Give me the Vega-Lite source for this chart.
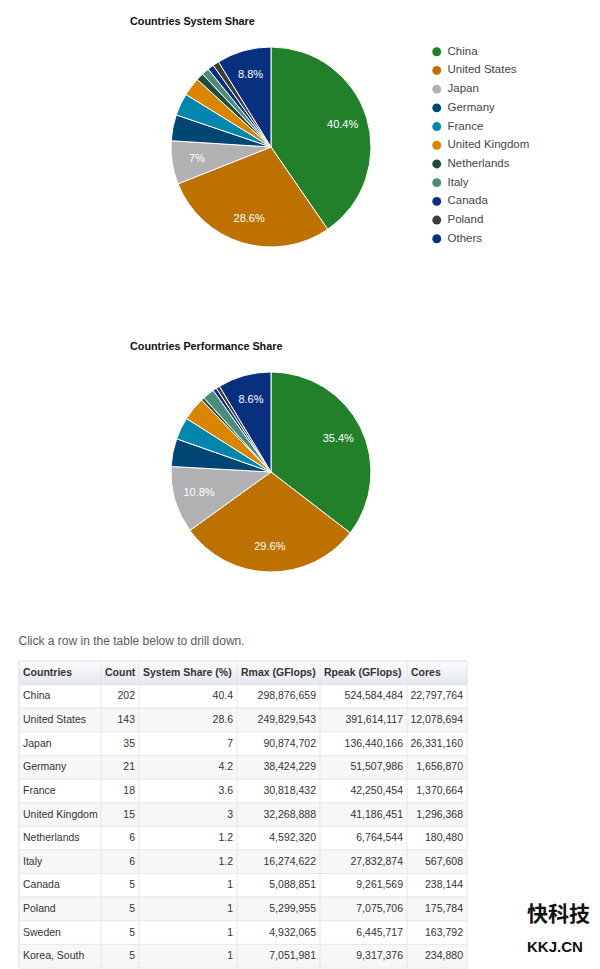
{
  "$schema": "https://vega.github.io/schema/vega-lite/v6.json",
  "background": "white",
  "padding": {"left": 18, "top": 16, "right": 2, "bottom": 0},
  "config": {"view": {"stroke": null}, "font": "Liberation Sans"},
  "datasets": {
    "pies": [
      {"rank": 1, "country": "China", "system": 0.404, "perf": 0.354},
      {"rank": 2, "country": "United States", "system": 0.286, "perf": 0.296},
      {"rank": 3, "country": "Japan", "system": 0.07, "perf": 0.108},
      {"rank": 4, "country": "Germany", "system": 0.042, "perf": 0.045},
      {"rank": 5, "country": "France", "system": 0.036, "perf": 0.036},
      {"rank": 6, "country": "United Kingdom", "system": 0.03, "perf": 0.038},
      {"rank": 7, "country": "Netherlands", "system": 0.012, "perf": 0.005},
      {"rank": 8, "country": "Italy", "system": 0.012, "perf": 0.019},
      {"rank": 9, "country": "Canada", "system": 0.01, "perf": 0.006},
      {"rank": 10, "country": "Poland", "system": 0.01, "perf": 0.006},
      {"rank": 11, "country": "Others", "system": 0.088, "perf": 0.086}
    ],
    "table": [
      {"rank": 1, "country": "China", "count": 202, "share": 40.4, "rmax": 298876659, "rpeak": 524584484, "cores": 22797764},
      {"rank": 2, "country": "United States", "count": 143, "share": 28.6, "rmax": 249829543, "rpeak": 391614117, "cores": 12078694},
      {"rank": 3, "country": "Japan", "count": 35, "share": 7, "rmax": 90874702, "rpeak": 136440166, "cores": 26331160},
      {"rank": 4, "country": "Germany", "count": 21, "share": 4.2, "rmax": 38424229, "rpeak": 51507986, "cores": 1656870},
      {"rank": 5, "country": "France", "count": 18, "share": 3.6, "rmax": 30818432, "rpeak": 42250454, "cores": 1370664},
      {"rank": 6, "country": "United Kingdom", "count": 15, "share": 3, "rmax": 32268888, "rpeak": 41186451, "cores": 1296368},
      {"rank": 7, "country": "Netherlands", "count": 6, "share": 1.2, "rmax": 4592320, "rpeak": 6764544, "cores": 180480},
      {"rank": 8, "country": "Italy", "count": 6, "share": 1.2, "rmax": 16274622, "rpeak": 27832874, "cores": 567608},
      {"rank": 9, "country": "Canada", "count": 5, "share": 1, "rmax": 5088851, "rpeak": 9261569, "cores": 238144},
      {"rank": 10, "country": "Poland", "count": 5, "share": 1, "rmax": 5299955, "rpeak": 7075706, "cores": 175784},
      {"rank": 11, "country": "Sweden", "count": 5, "share": 1, "rmax": 4932065, "rpeak": 6445717, "cores": 163792},
      {"rank": 12, "country": "Korea, South", "count": 5, "share": 1, "rmax": 7051981, "rpeak": 9317376, "cores": 234880}
    ],
    "cols": [
      {"column": "Countries", "idx": 0},
      {"column": "Count", "idx": 1},
      {"column": "System Share (%)", "idx": 2},
      {"column": "Rmax (GFlops)", "idx": 3},
      {"column": "Rpeak (GFlops)", "idx": 4},
      {"column": "Cores", "idx": 5}
    ]
  },
  "bounds": "full",
  "spacing": 60,
  "vconcat": [
    {
      "bounds": "flush",
      "spacing": 125,
      "vconcat": [
        {
          "width": 504,
          "height": 200,
          "title": {"text": "Countries System Share", "anchor": "start", "dx": 111, "offset": 18, "fontSize": 10.8, "fontWeight": "bold", "color": "#111111"},
          "data": {"name": "pies"},
          "encoding": {
            "theta": {"field": "system", "type": "quantitative", "stack": true},
            "order": {"field": "rank", "type": "quantitative"},
            "color": {
              "field": "country", "type": "nominal",
              "scale": {
                "domain": ["China", "United States", "Japan", "Germany", "France", "United Kingdom", "Netherlands", "Italy", "Canada", "Poland", "Others"],
                "range": ["#22802b", "#bc7100", "#b1b1b3", "#004675", "#0086ad", "#d98500", "#204c3d", "#4b8c7a", "#0b2e7f", "#3c3c3c", "#08307f"]
              },
              "legend": {"orient": "none", "legendX": 412, "legendY": -1, "title": null, "symbolType": "circle", "symbolSize": 80, "symbolStrokeWidth": 0, "labelFontSize": 11.5, "labelColor": "#444444", "labelOffset": 5, "rowPadding": 5.7, "padding": 0}
            }
          },
          "layer": [
            {"mark": {"type": "arc", "outerRadius": 100, "stroke": "white", "strokeWidth": 1}},
            {
              "mark": {"type": "text", "radius": 75, "fontSize": 11},
              "encoding": {
                "color": {"value": "white"},
                "text": {"condition": {"test": "datum.system < 0.05", "value": ""}, "field": "system", "type": "quantitative", "format": "~%"}
              }
            }
          ]
        },
        {
          "width": 504,
          "height": 200,
          "title": {"text": "Countries Performance Share", "anchor": "start", "dx": 111, "offset": 18, "fontSize": 10.8, "fontWeight": "bold", "color": "#111111"},
          "data": {"name": "pies"},
          "encoding": {
            "theta": {"field": "perf", "type": "quantitative", "stack": true},
            "order": {"field": "rank", "type": "quantitative"},
            "color": {
              "field": "country", "type": "nominal",
              "scale": {
                "domain": ["China", "United States", "Japan", "Germany", "France", "United Kingdom", "Netherlands", "Italy", "Canada", "Poland", "Others"],
                "range": ["#22802b", "#bc7100", "#b1b1b3", "#004675", "#0086ad", "#d98500", "#204c3d", "#4b8c7a", "#0b2e7f", "#3c3c3c", "#08307f"]
              },
              "legend": {"orient": "none", "legendX": 412, "legendY": -1, "title": null, "symbolType": "circle", "symbolSize": 80, "symbolStrokeWidth": 0, "labelFontSize": 11.5, "labelColor": "#444444", "labelOffset": 5, "rowPadding": 5.7, "padding": 0}
            }
          },
          "layer": [
            {"mark": {"type": "arc", "outerRadius": 100, "stroke": "white", "strokeWidth": 1}},
            {
              "mark": {"type": "text", "radius": 75, "fontSize": 11},
              "encoding": {
                "color": {"value": "white"},
                "text": {"condition": {"test": "datum.perf < 0.05", "value": ""}, "field": "perf", "type": "quantitative", "format": "~%"}
              }
            }
          ]
        }
      ]
    },
    {
      "width": 448,
      "height": 307,
      "title": {"text": "Click a row in the table below to drill down.", "anchor": "start", "offset": 13, "fontSize": 12, "fontWeight": "normal", "color": "#5a5a5a"},
      "data": {"name": "table"},
      "layer": [
        {
          "mark": {"type": "rect", "stroke": "#e8e8e8", "strokeWidth": 1},
          "encoding": {
            "x": {"datum": 0, "type": "quantitative", "scale": {"type": "linear", "domain": [0, 1, 2, 3, 4, 5, 6], "range": [0, 82, 120, 218, 301, 388, 448], "nice": false, "zero": false}, "axis": null},
            "x2": {"datum": 6},
            "y": {"field": "rank", "type": "ordinal", "scale": {"domain": [0, 1, 2, 3, 4, 5, 6, 7, 8, 9, 10, 11, 12], "paddingInner": 0, "paddingOuter": 0}, "axis": null},
            "fill": {"condition": {"test": "datum.rank % 2 == 0", "value": "#f7f7f7"}, "value": "#ffffff"}
          }
        },
        {
          "data": {"values": [{}]},
          "mark": {"type": "rect", "stroke": "#dde0e5", "strokeWidth": 1, "fill": {"gradient": "linear", "x1": 0, "y1": 0, "x2": 0, "y2": 1, "stops": [{"offset": 0, "color": "#fdfdfe"}, {"offset": 1, "color": "#e3e7ee"}]}},
          "encoding": {
            "x": {"datum": 0, "type": "quantitative"},
            "x2": {"datum": 6},
            "y": {"datum": 0, "type": "ordinal"}
          }
        },
        {
          "data": {"name": "cols"},
          "mark": {"type": "rule", "color": "#e6e6e6", "strokeWidth": 1},
          "encoding": {"x": {"field": "idx", "type": "quantitative"}}
        },
        {
          "data": {"name": "cols"},
          "mark": {"type": "text", "align": "left", "dx": 4, "fontSize": 10.5, "fontWeight": "bold", "fill": "#333333"},
          "encoding": {
            "x": {"field": "idx", "type": "quantitative"},
            "y": {"datum": 0, "type": "ordinal"},
            "text": {"field": "column", "type": "nominal"}
          }
        },
        {
          "mark": {"type": "text", "align": "left", "dx": 4, "fontSize": 10.5, "fill": "#333333"},
          "encoding": {"x": {"datum": 0, "type": "quantitative"}, "y": {"field": "rank", "type": "ordinal"}, "text": {"field": "country", "type": "nominal"}}
        },
        {
          "mark": {"type": "text", "align": "right", "dx": -4, "fontSize": 10.5, "fill": "#333333"},
          "encoding": {"x": {"datum": 2, "type": "quantitative"}, "y": {"field": "rank", "type": "ordinal"}, "text": {"field": "count", "type": "quantitative", "format": "d"}}
        },
        {
          "mark": {"type": "text", "align": "right", "dx": -4, "fontSize": 10.5, "fill": "#333333"},
          "encoding": {"x": {"datum": 3, "type": "quantitative"}, "y": {"field": "rank", "type": "ordinal"}, "text": {"field": "share", "type": "quantitative", "format": "~g"}}
        },
        {
          "mark": {"type": "text", "align": "right", "dx": -4, "fontSize": 10.5, "fill": "#333333"},
          "encoding": {"x": {"datum": 4, "type": "quantitative"}, "y": {"field": "rank", "type": "ordinal"}, "text": {"field": "rmax", "type": "quantitative", "format": ","}}
        },
        {
          "mark": {"type": "text", "align": "right", "dx": -4, "fontSize": 10.5, "fill": "#333333"},
          "encoding": {"x": {"datum": 5, "type": "quantitative"}, "y": {"field": "rank", "type": "ordinal"}, "text": {"field": "rpeak", "type": "quantitative", "format": ","}}
        },
        {
          "mark": {"type": "text", "align": "right", "dx": -4, "fontSize": 10.5, "fill": "#333333"},
          "encoding": {"x": {"datum": 6, "type": "quantitative"}, "y": {"field": "rank", "type": "ordinal"}, "text": {"field": "cores", "type": "quantitative", "format": ","}}
        },
        {
          "data": {"values": [{"brand": "快科技", "site": "KKJ.CN"}]},
          "mark": {"type": "text", "align": "left", "dy": -18, "fontSize": 21, "fontWeight": "bold", "font": "Noto Sans CJK SC", "fill": "#111111"},
          "encoding": {"x": {"datum": 7, "type": "quantitative"}, "y": {"datum": 11, "type": "ordinal"}, "text": {"field": "brand", "type": "nominal"}}
        },
        {
          "data": {"values": [{"brand": "快科技", "site": "KKJ.CN"}]},
          "mark": {"type": "text", "align": "left", "dy": -9, "fontSize": 15, "fontWeight": "bold", "fill": "#111111"},
          "encoding": {"x": {"datum": 7, "type": "quantitative"}, "y": {"datum": 12, "type": "ordinal"}, "text": {"field": "site", "type": "nominal"}}
        }
      ]
    }
  ]
}
